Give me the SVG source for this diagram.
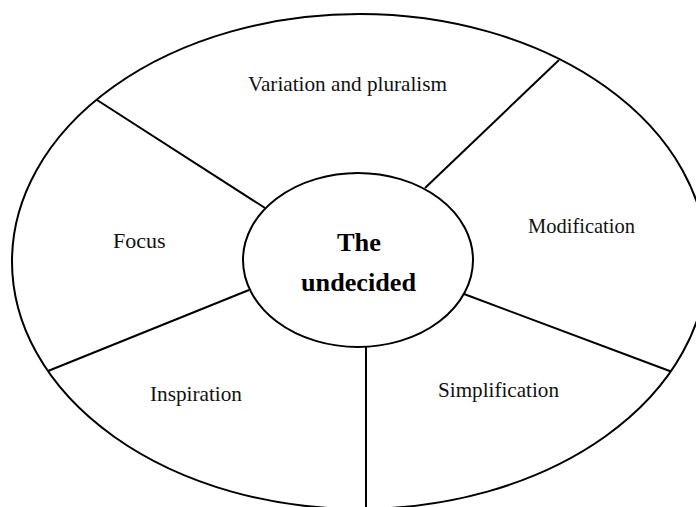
<svg xmlns="http://www.w3.org/2000/svg" width="696" height="507" viewBox="0 0 696 507">
  <style>
    .shape { fill: none; stroke: #000; stroke-width: 2; }
    .divider { stroke: #000; stroke-width: 2; fill: none; }
    .label { font-family: "Liberation Serif", "Times New Roman", serif; font-size: 22px; fill: #111; }
    .core { font-family: "Liberation Serif", "Times New Roman", serif; font-size: 25px; font-weight: bold; fill: #000; }
  </style>
  <rect x="0" y="0" width="696" height="507" fill="#fff"/>
  <g id="outer-ring">
    <ellipse class="shape" cx="359.5" cy="261.5" rx="347.5" ry="247.5"/>
  </g>
  <g id="connectors">
    <line class="divider" x1="97" y1="100" x2="265" y2="208"/>
    <line class="divider" x1="559" y1="60" x2="425" y2="188"/>
    <line class="divider" x1="48" y1="371" x2="249" y2="290"/>
    <line class="divider" x1="464" y1="294" x2="671" y2="371.5"/>
    <line class="divider" x1="366" y1="346" x2="366" y2="507"/>
  </g>
  <g id="center">
    <ellipse class="shape" cx="358" cy="260" rx="115" ry="87"/>
    <text class="core" x="359" y="251" text-anchor="middle" textLength="44" lengthAdjust="spacingAndGlyphs">The</text>
    <text class="core" x="358.5" y="291" text-anchor="middle" textLength="115" lengthAdjust="spacingAndGlyphs">undecided</text>
  </g>
  <g id="variation">
    <text class="label" x="248" y="91" textLength="199" lengthAdjust="spacingAndGlyphs">Variation and pluralism</text>
  </g>
  <g id="modification">
    <text class="label" x="528" y="233" textLength="107" lengthAdjust="spacingAndGlyphs">Modification</text>
  </g>
  <g id="focus">
    <text class="label" x="113" y="248">Focus</text>
  </g>
  <g id="inspiration">
    <text class="label" x="150" y="401" textLength="92" lengthAdjust="spacingAndGlyphs">Inspiration</text>
  </g>
  <g id="simplification">
    <text class="label" x="438" y="397" textLength="121" lengthAdjust="spacingAndGlyphs">Simplification</text>
  </g>
</svg>
